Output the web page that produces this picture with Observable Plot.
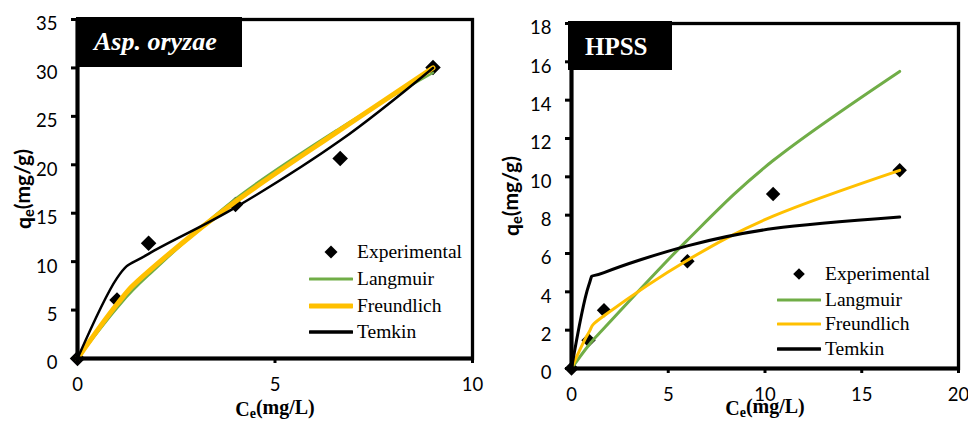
<!DOCTYPE html>
<html><head><meta charset="utf-8">
<script src="https://cdn.jsdelivr.net/npm/d3@7"></script>
<script src="https://cdn.jsdelivr.net/npm/@observablehq/plot@0.6"></script>
<style>
body{margin:0;background:#fff;}
#wrap{position:relative;width:968px;height:421px;overflow:hidden;background:#fff;}
.panel{position:absolute;top:0;}
.tag{position:absolute;background:#000;color:#fff;font-family:"Liberation Serif","Times New Roman",serif;font-weight:bold;line-height:1;}
.legend{position:absolute;font-family:"Liberation Serif","Times New Roman",serif;font-size:19.5px;color:#000;}
.row{position:absolute;left:0;height:26px;display:flex;align-items:center;white-space:nowrap;}
.row svg{display:block;margin-right:4px;}
</style></head>
<body><div id="wrap"></div>
<script>
// ---------- data ----------
const seriesNames = ["Experimental", "Langmuir", "Freundlich", "Temkin"];
const seriesColors = ["#000000", "#70AD47", "#FFC000", "#000000"];

// Panel 1: Asp. oryzae
const aspTitle = "Asp. oryzae";
const aspCe = [0, 1.0, 1.8, 4.0, 6.65, 9.0];
const aspExp = [0, 6.05, 11.9, 15.9, 20.65, 30.05];
const aspLangmuir = [0, 5.2, 8.6, 16.5, 23.8, 29.5];
const aspFreundlich = [0, 5.6, 9.0, 16.2, 23.6, 30.0];
const aspTemkin = [0, 8.3, 10.8, 15.6, 22.5, 30.0];
const aspXTicks = [0, 5, 10];
const aspYTicks = [0, 5, 10, 15, 20, 25, 30, 35];

// Panel 2: HPSS
const hpssTitle = "HPSS";
const hpssCe = [0, 0.88, 1.68, 5.99, 10.42, 16.96];
const hpssExp = [0, 1.48, 3.04, 5.6, 9.1, 10.34];
const hpssLangmuir = [0, 1.2, 2.1, 6.7, 10.85, 15.5];
const hpssFreundlich = [0, 1.85, 2.75, 5.65, 7.95, 10.34];
const hpssTemkin = [0, 4.3, 5.0, 6.4, 7.3, 7.9];
const hpssXTicks = [0, 5, 10, 15, 20];
const hpssYTicks = [0, 2, 4, 6, 8, 10, 12, 14, 16, 18];

const yLabel = "qe(mg/g)";
const xLabel = "Ce(mg/L)";

const SANS = "Lato, 'Open Sans', Calibri, sans-serif";
const SERIF = "'Liberation Serif', 'Times New Roman', serif";

function subscriptify(svg) {
  svg.querySelectorAll("text").forEach(t => {
    const s = t.textContent;
    if (s === yLabel || s === xLabel) {
      while (t.firstChild) t.removeChild(t.firstChild);
      const ns = "http://www.w3.org/2000/svg";
      t.appendChild(document.createTextNode(s[0]));
      const sub = document.createElementNS(ns, "tspan");
      sub.setAttribute("font-size", "70%");
      sub.setAttribute("dy", "0.2em");
      sub.textContent = s[1];
      t.appendChild(sub);
      const rest = document.createElementNS(ns, "tspan");
      rest.setAttribute("dy", "-0.2em");
      rest.textContent = s.slice(2);
      t.appendChild(rest);
    }
  });
}

function panel(cfg) {
  const rows = cfg.ce.map((c, i) => ({c, exp: cfg.exp[i], L: cfg.L[i], F: cfg.F[i], T: cfg.T[i]}));
  const svg = Plot.plot({
    width: cfg.width, height: 421,
    marginLeft: cfg.ml, marginRight: cfg.mr, marginTop: cfg.mt, marginBottom: cfg.mb,
    x: {domain: cfg.xDomain},
    y: {domain: cfg.yDomain},
    style: {fontFamily: SANS, background: "transparent", color: "black", overflow: "visible"},
    marks: [
      Plot.dot(rows, {x: "c", y: "exp", symbol: "diamond2", r: cfg.r, fill: "black", stroke: "none"}),
      Plot.line(rows, {x: "c", y: "L", stroke: seriesColors[1], strokeWidth: cfg.swL, curve: "cardinal"}),
      Plot.line(rows, {x: "c", y: "F", stroke: seriesColors[2], strokeWidth: cfg.swF, curve: "cardinal"}),
      Plot.line(rows, {x: "c", y: "T", stroke: seriesColors[3], strokeWidth: cfg.swT, curve: "cardinal"}),
      Plot.frame({stroke: "black", strokeWidth: 3.3}),
      Plot.ruleX([0], {stroke: "black", strokeWidth: 4}),
      Plot.ruleY([0], {stroke: "black", strokeWidth: 4}),
      Plot.axisY({ticks: cfg.yTicks, tickSize: 6, strokeWidth: 3, tickFormat: () => "",
        label: yLabel, labelAnchor: "center", labelArrow: "none", labelOffset: cfg.yLabelOffset,
        fontSize: 21, fontWeight: "bold", fontFamily: SANS, fill: "black"}),
      Plot.axisY({ticks: cfg.yTicks, tickSize: 0, tickPadding: 20, dy: 5, label: null, fontSize: 18.5, fill: "black"}),
      Plot.axisX({ticks: cfg.xTicks, tickSize: 5, strokeWidth: 3, tickFormat: () => "",
        label: xLabel, labelAnchor: "center", labelArrow: "none", labelOffset: cfg.xLabelOffset,
        fontSize: 20, fontWeight: "bold", fontFamily: SERIF, fill: "black"}),
      Plot.axisX({ticks: cfg.xTicks, tickSize: 0, tickPadding: 19, label: null, fontSize: 18.5, fill: "black"})
    ]
  });
  subscriptify(svg);
  return svg;
}

const wrap = document.getElementById("wrap");

function addPanel(cfg) {
  const div = document.createElement("div");
  div.className = "panel";
  div.style.left = cfg.left + "px";
  div.appendChild(panel(cfg));
  wrap.appendChild(div);

  const tag = document.createElement("div");
  tag.className = "tag";
  Object.assign(tag.style, cfg.tagStyle);
  tag.style.fontSize = cfg.tagFont + "px";
  tag.style.fontStyle = cfg.tagItalic ? "italic" : "normal";
  const span = document.createElement("span");
  span.textContent = cfg.title;
  span.style.position = "absolute";
  span.style.left = cfg.tagTextLeft + "px";
  span.style.top = cfg.tagTextTop + "px";
  tag.appendChild(span);
  wrap.appendChild(tag);

  const lg = document.createElement("div");
  lg.className = "legend";
  lg.style.left = cfg.legLeft + "px";
  lg.style.top = cfg.legTop + "px";
  seriesNames.forEach((name, i) => {
    const row = document.createElement("div");
    row.className = "row";
    row.style.top = (cfg.legRows[i] - 13) + "px";
    const sw = cfg.legSwatchW;
    let sym;
    if (i === 0) {
      const h = cfg.legDiamond;
      sym = `<svg width="${sw}" height="16"><polygon points="${sw/2},${8-h} ${sw/2+h},8 ${sw/2},${8+h} ${sw/2-h},8" fill="#000"/></svg>`;
    } else {
      sym = `<svg width="${sw}" height="16"><line x1="1" x2="${sw-1}" y1="8" y2="8" stroke="${seriesColors[i]}" stroke-width="${cfg.legSW[i]}" stroke-linecap="round"/></svg>`;
    }
    row.innerHTML = sym + `<span>${name}</span>`;
    lg.appendChild(row);
  });
  wrap.appendChild(lg);
}

addPanel({
  left: 0, width: 490, ml: 77, mr: 18, mt: 19, mb: 63,
  xDomain: [0, 10], yDomain: [0, 35], xTicks: aspXTicks, yTicks: aspYTicks,
  ce: aspCe, exp: aspExp, L: aspLangmuir, F: aspFreundlich, T: aspTemkin,
  r: 7, swL: 2.5, swF: 5, swT: 2.5,
  yLabelOffset: 61, xLabelOffset: 57,
  title: aspTitle, tagItalic: true, tagFont: 26,
  tagStyle: {left: "76px", top: "17px", width: "166px", height: "50px"},
  tagTextLeft: 18, tagTextTop: 12,
  legLeft: 309, legTop: 0, legRows: [252, 279, 306, 332], legSwatchW: 44, legDiamond: 6.5,
  legSW: [0, 3, 5, 3.3]
});

addPanel({
  left: 490, width: 478, ml: 81, mr: 10, mt: 23, mb: 53,
  xDomain: [0, 20], yDomain: [0, 18], xTicks: hpssXTicks, yTicks: hpssYTicks,
  ce: hpssCe, exp: hpssExp, L: hpssLangmuir, F: hpssFreundlich, T: hpssTemkin,
  r: 6.5, swL: 3, swF: 3, swT: 3,
  yLabelOffset: 67, xLabelOffset: 46,
  title: hpssTitle, tagItalic: false, tagFont: 25,
  tagStyle: {left: "568px", top: "21px", width: "104px", height: "49px"},
  tagTextLeft: 17, tagTextTop: 13,
  legLeft: 777, legTop: 0, legRows: [274, 300, 324, 349], legSwatchW: 44, legDiamond: 5.8,
  legSW: [0, 3, 3, 3.3]
});
</script>
</body></html>
